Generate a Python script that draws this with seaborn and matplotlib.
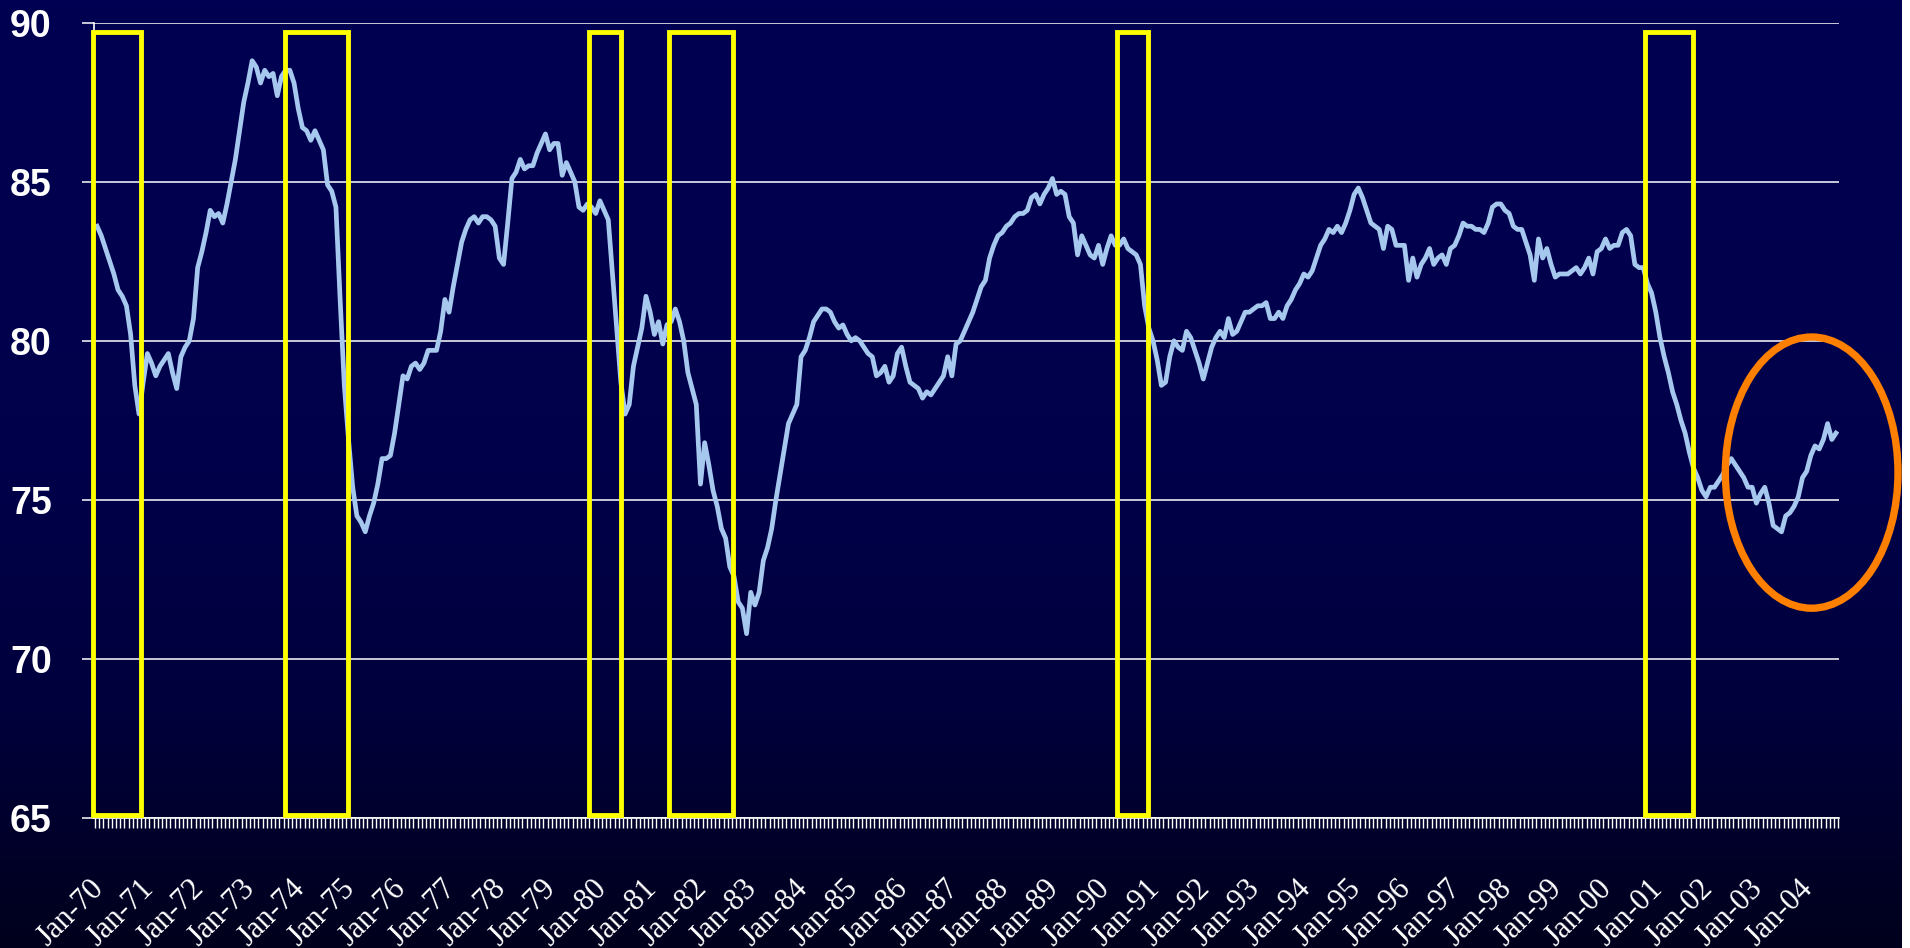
import numpy as np
import pandas as pd
import matplotlib
matplotlib.use("Agg")
import matplotlib.pyplot as plt
from matplotlib.colors import LinearSegmentedColormap
from matplotlib.patches import Rectangle, Ellipse
from matplotlib.transforms import ScaledTranslation
import seaborn as sns

# monthly capacity utilisation, Jan 1970 - Aug 2004
util_1970s = [
    83.6, 83.3, 82.9, 82.5, 82.1, 81.6, 81.4, 81.1, 80.2, 78.6, 77.7, 78.7,
    79.6, 79.3, 78.9, 79.2, 79.4, 79.6, 79.0, 78.5, 79.5, 79.8, 80.0, 80.7,
    82.3, 82.8, 83.4, 84.1, 83.9, 84.0, 83.7, 84.3, 85.0, 85.7, 86.6, 87.5,
    88.1, 88.8, 88.6, 88.1, 88.5, 88.3, 88.4, 87.7, 88.3, 88.5, 88.5, 88.1,
    87.3, 86.7, 86.6, 86.3, 86.6, 86.3, 86.0, 84.9, 84.7, 84.2, 81.3, 78.6,
    76.9, 75.4, 74.5, 74.3, 74.0, 74.5, 74.9, 75.5, 76.3, 76.3, 76.4, 77.1,
    78.0, 78.9, 78.8, 79.2, 79.3, 79.1, 79.3, 79.7, 79.7, 79.7, 80.3, 81.3,
    80.9, 81.7, 82.4, 83.1, 83.5, 83.8, 83.9, 83.7, 83.9, 83.9, 83.8, 83.6,
    82.6, 82.4, 83.7, 85.1, 85.3, 85.7, 85.4, 85.5, 85.5, 85.9, 86.2, 86.5,
    86.0, 86.2, 86.2, 85.2, 85.6, 85.3, 85.0, 84.2, 84.1, 84.3, 84.2, 84.0,
]
util_1980s = [
    84.4, 84.1, 83.8, 82.1, 80.4, 78.7, 77.7, 78.0, 79.2, 79.8, 80.4, 81.4,
    80.9, 80.2, 80.6, 79.9, 80.5, 80.6, 81.0, 80.6, 80.0, 79.0, 78.5, 78.0,
    75.5, 76.8, 76.1, 75.3, 74.8, 74.1, 73.8, 72.9, 72.6, 71.8, 71.6, 70.8,
    72.1, 71.7, 72.1, 73.1, 73.5, 74.1, 75.0, 75.8, 76.6, 77.4, 77.7, 78.0,
    79.5, 79.7, 80.1, 80.6, 80.8, 81.0, 81.0, 80.9, 80.6, 80.4, 80.5, 80.2,
    80.0, 80.1, 80.0, 79.8, 79.6, 79.5, 78.9, 79.0, 79.2, 78.7, 78.9, 79.6,
    79.8, 79.2, 78.7, 78.6, 78.5, 78.2, 78.4, 78.3, 78.5, 78.7, 78.9, 79.5,
    78.9, 79.9, 80.0, 80.3, 80.6, 80.9, 81.3, 81.7, 81.9, 82.6, 83.0, 83.3,
    83.4, 83.6, 83.7, 83.9, 84.0, 84.0, 84.1, 84.5, 84.6, 84.3, 84.6, 84.8,
    85.1, 84.6, 84.7, 84.6, 83.9, 83.7, 82.7, 83.3, 83.0, 82.7, 82.6, 83.0,
]
util_1990s = [
    82.4, 82.9, 83.3, 83.0, 83.0, 83.2, 82.9, 82.8, 82.7, 82.4, 81.1, 80.4,
    80.0, 79.4, 78.6, 78.7, 79.5, 80.0, 79.8, 79.7, 80.3, 80.1, 79.7, 79.3,
    78.8, 79.3, 79.8, 80.1, 80.3, 80.1, 80.7, 80.2, 80.3, 80.6, 80.9, 80.9,
    81.0, 81.1, 81.1, 81.2, 80.7, 80.7, 80.9, 80.7, 81.1, 81.3, 81.6, 81.8,
    82.1, 82.0, 82.2, 82.6, 83.0, 83.2, 83.5, 83.4, 83.6, 83.4, 83.7, 84.1,
    84.6, 84.8, 84.5, 84.1, 83.7, 83.6, 83.5, 82.9, 83.6, 83.5, 83.0, 83.0,
    83.0, 81.9, 82.6, 82.0, 82.4, 82.6, 82.9, 82.4, 82.6, 82.7, 82.4, 82.9,
    83.0, 83.3, 83.7, 83.6, 83.6, 83.5, 83.5, 83.4, 83.7, 84.2, 84.3, 84.3,
    84.1, 84.0, 83.6, 83.5, 83.5, 83.1, 82.7, 81.9, 83.2, 82.6, 82.9, 82.4,
    82.0, 82.1, 82.1, 82.1, 82.2, 82.3, 82.1, 82.3, 82.6, 82.1, 82.8, 82.9,
]
util_2000s = [
    83.2, 82.9, 83.0, 83.0, 83.4, 83.5, 83.3, 82.4, 82.3, 82.3, 81.8, 81.5,
    80.9, 80.1, 79.5, 79.0, 78.4, 78.0, 77.5, 77.1, 76.5, 76.0, 75.7, 75.3,
    75.1, 75.4, 75.4, 75.6, 75.8, 76.1, 76.3, 76.1, 75.9, 75.7, 75.4, 75.4,
    74.9, 75.2, 75.4, 74.9, 74.2, 74.1, 74.0, 74.5, 74.6, 74.8, 75.1, 75.7,
    75.9, 76.4, 76.7, 76.6, 76.9, 77.4, 76.9, 77.1,
]

# recession boxes drawn on the chart, in months since Jan-70
recessions = [(-0.9, 10.4), (44.8, 59.9), (117.3, 125.0),
              (136.5, 151.7), (243.3, 250.9), (369.4, 380.8)]

util = util_1970s + util_1980s + util_1990s + util_2000s
dates = pd.date_range("1970-01-01", periods=len(util), freq="MS")
df = pd.DataFrame({"month": np.arange(len(util)), "util": util, "date": dates})

year_starts = df.index[df["date"].dt.month == 1]
year_labels = df.loc[year_starts, "date"].dt.strftime("%b-%y")

fig = plt.figure(figsize=(19.1, 9.48), dpi=100, facecolor="white")

# gradient background
bg = fig.add_axes([0, 0, 1901 / 1910, 1], zorder=-1)
grad = LinearSegmentedColormap.from_list(
    "bg", [(0, "#000052"), (0.5, "#00004a"), (0.75, "#00003c"), (1, "#00001c")])
bg.imshow(np.linspace(0, 1, 256).reshape(-1, 1), aspect="auto", cmap=grad,
          extent=[0, 1, 0, 1])
bg.axis("off")

ax = fig.add_axes([93.5 / 1910, 1 - 818.3 / 948, (1839 - 93.5) / 1910,
                   (818.3 - 22.5) / 948])
ax.set_facecolor("none")

sns.lineplot(data=df, x="month", y="util", ax=ax, color="#a6c8ee",
             linewidth=3.4, zorder=3)

ax.set_xlim(-0.86, 415.72)
ax.set_ylim(65, 90)
ax.set_yticks([65, 70, 75, 80, 85, 90])
ax.yaxis.grid(True, color="white", linewidth=1.1)
ax.xaxis.grid(False)
ax.set_axisbelow(True)
ax.set_xlabel("")
ax.set_ylabel("")

for side in ["top", "right"]:
    ax.spines[side].set_visible(False)
for side in ["left", "bottom"]:
    ax.spines[side].set_color("white")
    ax.spines[side].set_linewidth(1.2)

ax.tick_params(axis="y", colors="white", length=9, width=1.1, pad=21,
               labelsize=27)
for lbl in ax.get_yticklabels():
    lbl.set_fontfamily("Liberation Sans")
    lbl.set_fontweight("bold")

ax.set_xticks(year_starts)
ax.set_xticklabels(year_labels, rotation=45, ha="right", va="top",
                   rotation_mode="anchor", family="Liberation Serif",
                   fontsize=22, color="white")
ax.set_xticks(np.arange(len(util) + 1) - 0.5, minor=True)
ax.tick_params(axis="x", which="major", length=0, pad=40)
ax.tick_params(axis="x", which="minor", length=7, width=1.0, color="white")
shift = ScaledTranslation(-8 / 100, 0, fig.dpi_scale_trans)
for lbl in ax.get_xticklabels():
    lbl.set_transform(lbl.get_transform() + shift)

for start, end in recessions:
    ax.add_patch(Rectangle((start, 65.1), end - start, 89.7 - 65.1,
                           fill=False, edgecolor="#ffff00", linewidth=3.5,
                           zorder=4, clip_on=False))

ax.add_patch(Ellipse((409.2, 75.86), 41.2, 8.52, fill=False,
                     edgecolor="#ff8000", linewidth=5.3, zorder=5,
                     clip_on=False))

fig.savefig("out.png", dpi=100, facecolor=fig.get_facecolor())
